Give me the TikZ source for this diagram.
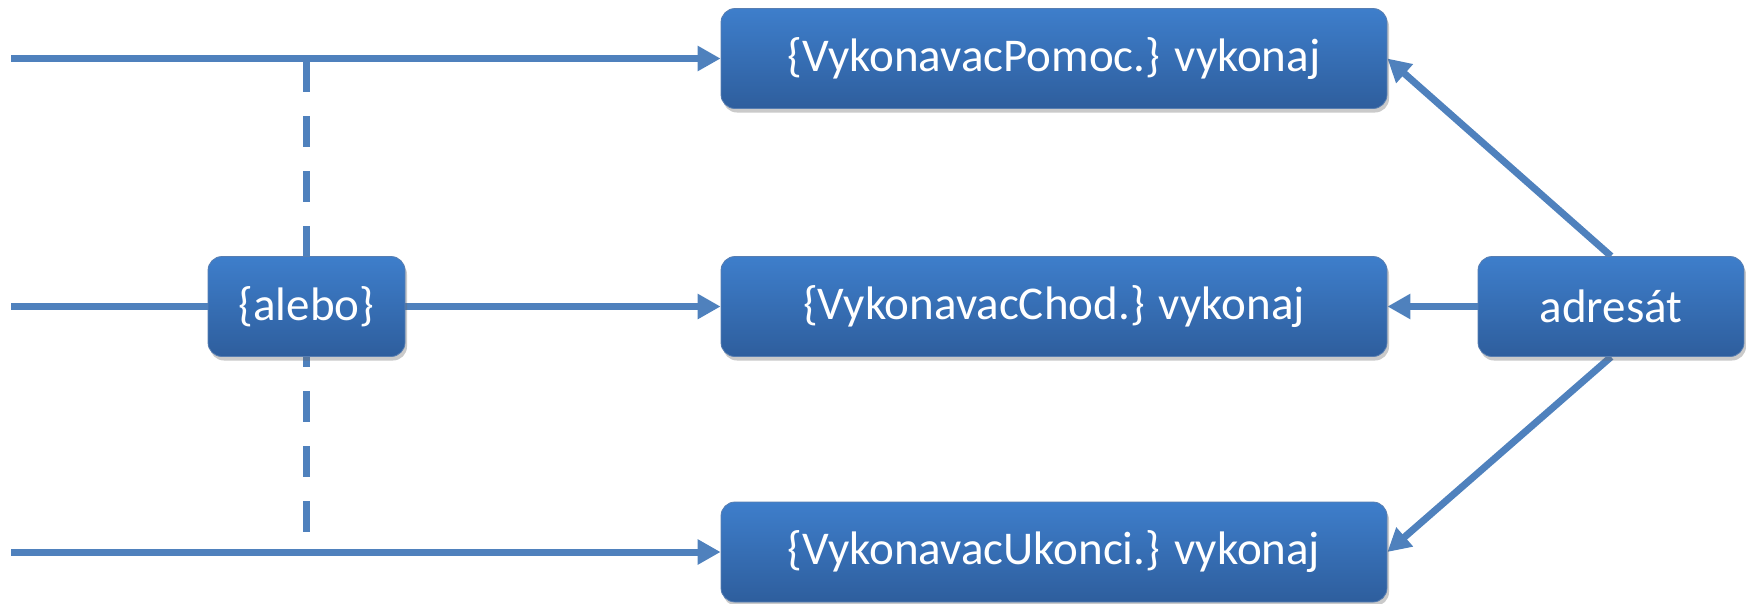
\documentclass[tikz,border=0pt]{standalone}
\usepackage{fontspec}
\setmainfont{Carlito}
\usetikzlibrary{arrows.meta,shadows,backgrounds}
\definecolor{lineblue}{RGB}{79,129,189}
\definecolor{boxtop}{RGB}{62,126,203}
\definecolor{boxbot}{RGB}{46,94,157}
\tikzset{
  blockbox/.style={rounded corners=14pt, top color=boxtop, bottom color=boxbot,
    draw=boxbot!80!white, line width=0.8pt, text=white, inner sep=0pt,
    minimum height=100pt, font=\fontsize{47}{50}\selectfont,
    drop shadow={shadow xshift=2pt, shadow yshift=-4pt, opacity=0.35, fill=black!60}},
  conn/.style={draw=lineblue, line width=7pt},
  arr/.style={conn, -{Triangle[length=23pt,width=24pt]}},
  dashline/.style={draw=lineblue, line width=7pt, dash pattern=on 31pt off 24pt}
}
\begin{document}
\begin{tikzpicture}[x=1pt,y=-1pt]
\useasboundingbox (0,0) rectangle (1746,603);
\node[blockbox, minimum width=666pt] (top) at (1054,58.5) {\{VykonavacPomoc.\} vykonaj};
\node[blockbox, minimum width=666pt] (mid) at (1054,306.5) {\{VykonavacChod.\} vykonaj};
\node[blockbox, minimum width=666pt] (bot) at (1054,552) {\{VykonavacUkonci.\} vykonaj};
\node[blockbox, minimum width=197pt] (alebo) at (306.5,306.5) {\{alebo\}};
\node[blockbox, minimum width=266pt] (adr) at (1611,306.5) {adresát};
\coordinate (in1) at (11,58.5);
\coordinate (in2) at (11,306.5);
\coordinate (in3) at (11,552);
\coordinate (d1) at (306,61);
\coordinate (d2) at (306,538);
\begin{scope}[on background layer]
\draw[arr] (in1) -- (top.west);
\draw[conn] (in2) -- (alebo.west);
\draw[arr] (alebo.east) -- (mid.west);
\draw[arr] (in3) -- (bot.west);
\draw[dashline] (d1) -- (d2);
\draw[arr] (adr.north) -- (top.east);
\draw[arr] (adr.west) -- (mid.east);
\draw[arr] (adr.south) -- (bot.east);
\end{scope}
\end{tikzpicture}
\end{document}
